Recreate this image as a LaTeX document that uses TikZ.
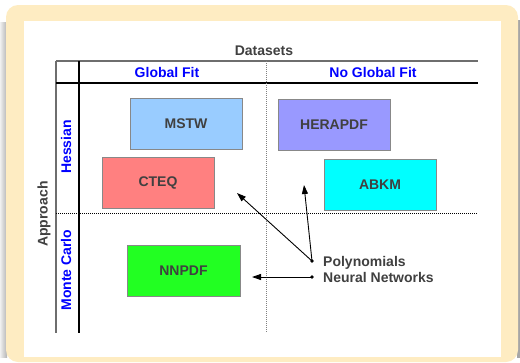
\documentclass[tikz,border=0pt]{standalone}
\usepackage{fontspec}
\setmainfont{Liberation Sans}
\usetikzlibrary{arrows.meta}
\definecolor{cream}{RGB}{254,236,194}
\definecolor{txtgrey}{RGB}{64,64,64}
\definecolor{bordergrey}{RGB}{136,136,136}
\definecolor{linegrey}{RGB}{110,110,110}
\definecolor{mstwc}{RGB}{153,204,255}
\definecolor{herac}{RGB}{153,153,255}
\definecolor{cteqc}{RGB}{255,128,128}
\definecolor{abkmc}{RGB}{0,255,255}
\definecolor{nnpdfc}{RGB}{34,255,34}
\definecolor{hblue}{RGB}{0,0,255}
\begin{document}
\begin{tikzpicture}[x=1pt,y=-1pt,
  pdfbox/.style={draw=bordergrey, line width=1pt, minimum width=112pt, minimum height=51pt,
    inner sep=0pt, font=\bfseries\fontsize{14}{16}\selectfont, text=txtgrey},
  hdr/.style={inner sep=0pt, font=\bfseries\fontsize{14}{16}\selectfont, text=hblue},
  ttl/.style={inner sep=0pt, font=\bfseries\fontsize{14}{16}\selectfont, text=txtgrey},
  dot/.style={circle, fill=black, inner sep=0pt, minimum size=3.6pt},
  arr/.style={line width=0.9pt, -{Triangle[length=9pt,width=6pt]}, shorten <=-1pt},
  gridthick/.style={line width=1.4pt},
]
\useasboundingbox (0,0) rectangle (520,362);
% frame
\shade[left color=gray!12, right color=gray!60] (0,22) rectangle (7,357);
\fill[gray!70] (517,20) rectangle (520,358);
\fill[cream, rounded corners=12pt] (6,5) rectangle (518,362);
\fill[white] (24,21) rectangle (501,357);
% table lines
\draw[gridthick, draw=linegrey] (56,61) -- (478,61);
\draw[gridthick, draw=linegrey] (56,61) -- (56,333);
\draw[gridthick, draw=black] (56,83) -- (478,83);
\draw[gridthick, draw=black] (79,61) -- (79,333);
\draw[line width=0.9pt, draw=gray, dash pattern=on 1pt off 1pt] (266,61) -- (266,333);
\draw[line width=0.9pt, draw=black, dash pattern=on 1pt off 1pt] (56,213) -- (478,213);
% headers
\node[ttl] (datasets) at (264,51) {Datasets};
\node[hdr] (global) at (167,72) {Global Fit};
\node[hdr] (noglobal) at (373,72) {No Global Fit};
\node[hdr, rotate=90] (hessian) at (66,147) {Hessian};
\node[hdr, rotate=90] (monte) at (66,270) {Monte Carlo};
\node[ttl, rotate=90] (approach) at (44,214) {Approach};
% boxes
\node[pdfbox, fill=mstwc] (mstw) at (186,123.5) {MSTW};
\node[pdfbox, fill=herac] (hera) at (334,124.5) {HERAPDF};
\node[pdfbox, fill=cteqc] (cteq) at (158,183) {CTEQ};
\node[pdfbox, fill=abkmc] (abkm) at (380,184.5) {ABKM};
\node[pdfbox, fill=nnpdfc, minimum width=113pt] (nnpdf) at (183.5,271) {NNPDF};
% legend
\node[ttl, anchor=base west] (poly) at (323,266) {Polynomials};
\node[ttl, anchor=base west] (neural) at (323,282) {Neural Networks};
\node[dot] (pd) at (312,261) {};
\node[dot] (nd) at (312,277) {};
\coordinate (t1) at (237,193);
\coordinate (t2) at (304,185);
\coordinate (t3) at (252,277);
\draw[arr] (pd.center) -- (t1);
\draw[arr] (pd.center) -- (t2);
\draw[arr] (nd.center) -- (t3);
\end{tikzpicture}
\end{document}
